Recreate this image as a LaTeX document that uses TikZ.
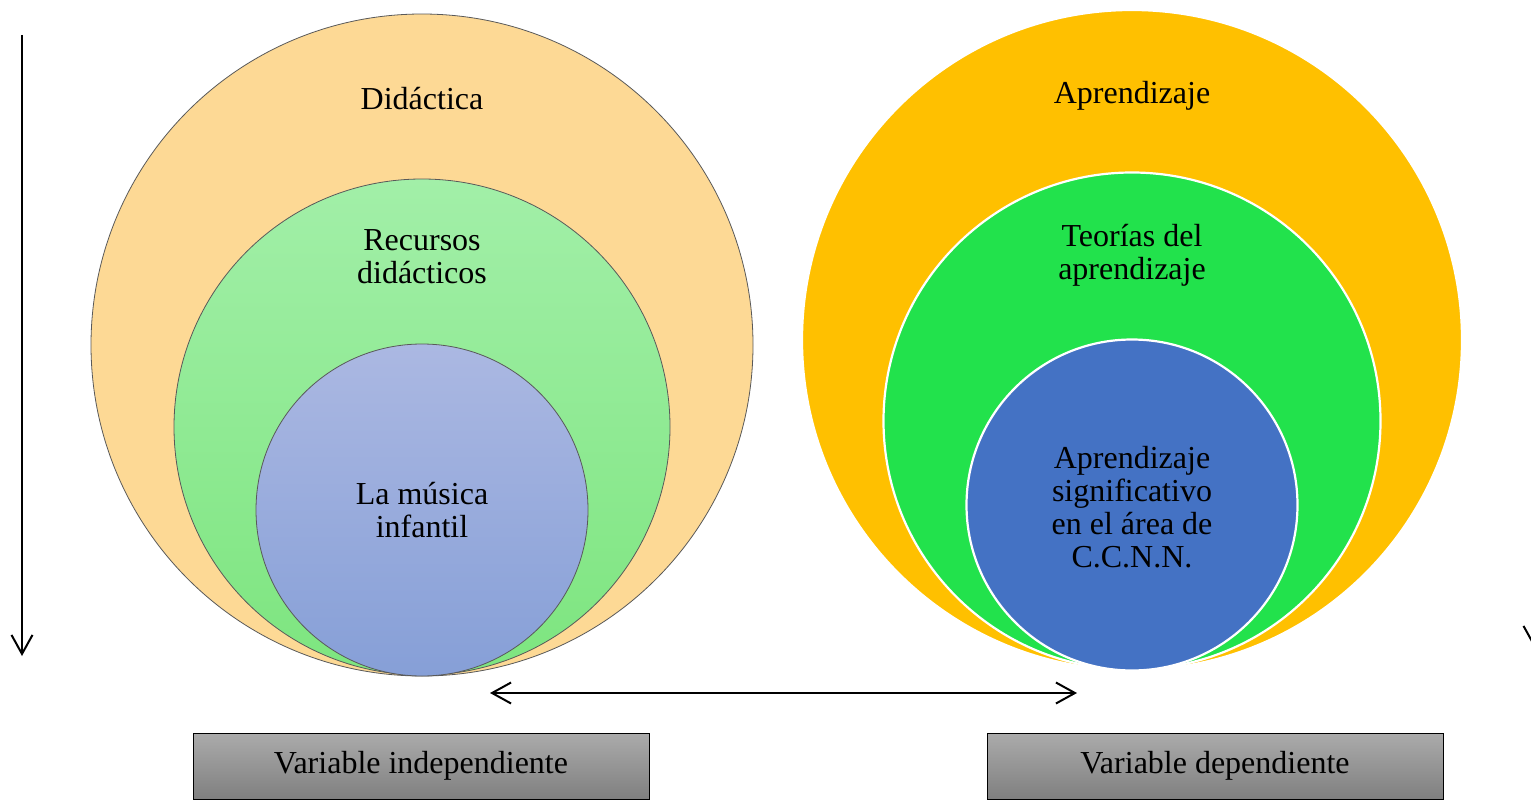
\documentclass[tikz,border=0pt]{standalone}
\usepackage{fontspec}
\setmainfont{Liberation Serif}
\usetikzlibrary{arrows.meta}

\definecolor{naranjaclaro}{HTML}{FDD995}
\definecolor{verdearriba}{HTML}{A2EFA8}
\definecolor{verdeabajo}{HTML}{7DE57F}
\definecolor{azularriba}{HTML}{ABB8E2}
\definecolor{azulabajo}{HTML}{869FD7}
\definecolor{ambar}{HTML}{FFC000}
\definecolor{verdevivo}{HTML}{22E24C}
\definecolor{azulfuerte}{HTML}{4472C4}

\tikzset{
  circulo/.style={circle, inner sep=0pt, minimum size=#1},
  borde/.style={draw=black!65, line width=0.8pt},
  bordeblanco/.style={draw=white, line width=2.2pt},
  texto/.style={align=center, inner sep=0pt, font=\fontsize{32}{33}\selectfont},
  varcaja/.style={draw=black, line width=1pt, top color=black!33, bottom color=black!50,
    minimum width=456pt, minimum height=66pt, inner sep=0pt, font=\fontsize{32}{33}\selectfont},
  flecha/.style={line width=2pt, -{Straight Barb[length=19pt,width=21pt]}},
}

\begin{document}
\begin{tikzpicture}[x=1pt, y=-1pt]
\useasboundingbox (0,0) rectangle (1531,800);

% variable independiente
\node[circulo=662pt, borde, fill=naranjaclaro] (didactica) at (422,345) {};
\node[circulo=496pt, borde, top color=verdearriba, bottom color=verdeabajo] (recursos) at (422,427) {};
\node[circulo=332pt, borde, top color=azularriba, bottom color=azulabajo] (musica) at (422,510) {};

\node[texto] (tdidactica) at (422,99) {Didáctica};
\node[texto] (trecursos) at (422,257) {Recursos\\didácticos};
\node[texto] (tmusica) at (422,510) {La música\\infantil};

% variable dependiente
\node[circulo=660pt, bordeblanco, fill=ambar] (aprendizaje) at (1132,340) {};
\node[circulo=497pt, bordeblanco, fill=verdevivo] (teorias) at (1132,421) {};
\node[circulo=331pt, bordeblanco, fill=azulfuerte] (significativo) at (1132,505) {};

\node[texto] (taprendizaje) at (1132,96) {Aprendizaje};
\node[texto] (tteorias) at (1132,255) {Teorías del\\aprendizaje};
\node[texto] (tsignificativo) at (1132,507) {Aprendizaje\\significativo\\en el área de\\C.C.N.N.};

% cajas
\node[varcaja] (vi) at (421,766) {Variable independiente};
\node[varcaja] (vd) at (1215,766) {Variable dependiente};

% flechas
\coordinate (izqarriba) at (22,35);
\coordinate (izqabajo) at (22,656);
\coordinate (derarriba) at (1534,35);
\coordinate (derabajo) at (1534,647);
\coordinate (relizq) at (490,693);
\coordinate (relder) at (1077,693);

\draw[flecha] (izqarriba) -- (izqabajo);
\draw[flecha] (derarriba) -- (derabajo);
\draw[flecha, {Straight Barb[length=19pt,width=21pt]}-{Straight Barb[length=19pt,width=21pt]}] (relizq) -- (relder);
\end{tikzpicture}
\end{document}
